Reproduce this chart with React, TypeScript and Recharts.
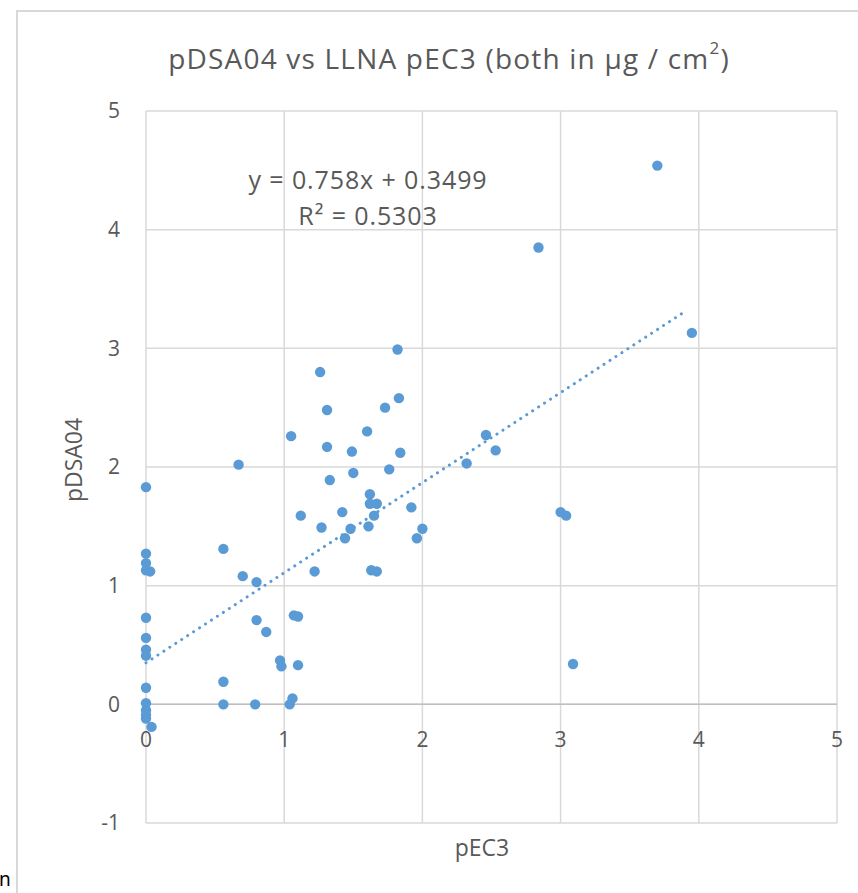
import React from 'react';
import { ScatterChart, Scatter, XAxis, YAxis, CartesianGrid, ReferenceLine } from 'recharts';

// LLNA pEC3 (x) and pDSA04 (y), both in µg / cm²
const pec3 = [
  0, 0, 0, 0, 0.03, 0, 0, 0, 0, 0, 0, 0, 0, 0, 0.04,
  0.67, 0.56, 0.7, 0.8, 0.8, 0.87, 0.97, 0.98, 1.1, 1.07, 1.1, 0.56, 0.56, 0.79, 1.04, 1.06,
  1.22, 1.12, 1.27, 1.05, 1.31, 1.31, 1.33, 1.82, 1.26, 1.83, 1.73, 1.6, 1.49, 1.84, 1.5, 1.76,
  2.46, 2.53, 2.32, 1.62, 1.62, 1.67, 1.65, 1.92, 1.42, 1.61, 1.48, 1.44, 2.0, 1.96, 1.63, 1.67,
  3.0, 3.04, 3.7, 2.84, 3.95, 3.09,
];
const pdsa04 = [
  1.83, 1.27, 1.19, 1.13, 1.12, 0.73, 0.56, 0.46, 0.41, 0.14, 0.01, -0.05, -0.09, -0.12, -0.19,
  2.02, 1.31, 1.08, 1.03, 0.71, 0.61, 0.37, 0.32, 0.33, 0.75, 0.74, 0.19, 0.0, 0.0, 0.0, 0.05,
  1.12, 1.59, 1.49, 2.26, 2.48, 2.17, 1.89, 2.99, 2.8, 2.58, 2.5, 2.3, 2.13, 2.12, 1.95, 1.98,
  2.27, 2.14, 2.03, 1.77, 1.69, 1.69, 1.59, 1.66, 1.62, 1.5, 1.48, 1.4, 1.48, 1.4, 1.13, 1.12,
  1.62, 1.59, 4.54, 3.85, 3.13, 0.34,
];

// linear trendline: y = 0.758x + 0.3499 (ends as drawn in the picture)
const trendStart = { x: 0, y: 0.35 };
const trendEnd = { x: 3.9, y: 3.31 };

const xTicks = [0, 1, 2, 3, 4, 5];
const yTicks = [-1, 0, 1, 2, 3, 4, 5];

const points = pec3.map((x, i) => ({ x, y: pdsa04[i] }));

const BLUE = '#5B9BD5';
const TEXT = '#595959';
const GRID = '#D9D9D9';
const FONT = '"Open Sans", "Noto Sans", sans-serif';

// x labels sit on the y = 0 line, not at the bottom of the plot
const XTick = (props: any) => {
  const { x, y, payload } = props;
  return (
    <text x={x} y={y - 83} dy="0.35em" textAnchor="middle" fill={TEXT} fontSize={21} fontFamily={FONT}>
      {payload.value}
    </text>
  );
};

export default function App() {
  return (
    <div style={{ position: 'absolute', left: 0, top: 0, width: 858, height: 893, background: '#fff', fontFamily: FONT, overflow: 'hidden' }}>
      <div style={{ position: 'absolute', left: 16, top: 10, width: 900, height: 900, border: `2px solid ${GRID}`, boxSizing: 'border-box' }} />
      <div style={{ position: 'absolute', left: -1, top: 866, fontSize: 19, color: '#000', fontFamily: '"Noto Sans", sans-serif' }}>n</div>

      <div style={{ position: 'absolute', left: 0, width: 898, top: 39, textAlign: 'center', fontSize: 28, letterSpacing: 1.2, color: TEXT }}>
        pDSA04 vs LLNA pEC3 (both in µg / cm<sup style={{ fontSize: 17, verticalAlign: 'top', position: 'relative', top: -3 }}>2</sup>)
      </div>

      <ScatterChart width={858} height={893} margin={{ top: 111, right: 21, bottom: 0, left: 106 }}>
        <CartesianGrid stroke={GRID} strokeWidth={1.5} />
        <XAxis
          type="number"
          dataKey="x"
          domain={[0, 5]}
          ticks={xTicks}
          axisLine={false}
          tickLine={false}
          tickSize={0}
          tickMargin={0}
          height={70}
          tick={<XTick />}
        />
        <YAxis
          type="number"
          dataKey="y"
          domain={[-1, 5]}
          ticks={yTicks}
          axisLine={false}
          tickLine={false}
          tickSize={0}
          tickMargin={26}
          width={40}
          tick={{ fill: TEXT, fontSize: 21, fontFamily: FONT }}
        />
        <ReferenceLine y={0} stroke="#BFBFBF" strokeWidth={1.5} />
        <ReferenceLine
          segment={[trendStart, trendEnd]}
          stroke={BLUE}
          strokeWidth={3}
          strokeDasharray="0.1 7"
          strokeLinecap="round"
        />
        <Scatter data={points} fill={BLUE} isAnimationActive={false} shape={(p: any) => <circle cx={p.cx} cy={p.cy} r={5.2} fill={BLUE} />} />
      </ScatterChart>

      <div style={{ position: 'absolute', left: 168, width: 400, top: 161, textAlign: 'center', fontSize: 25, letterSpacing: 0.9, color: TEXT, lineHeight: '36px' }}>
        y = 0.758x + 0.3499<br />R² = 0.5303
      </div>
      <div style={{ position: 'absolute', left: 13, top: 444, width: 120, textAlign: 'center', fontSize: 23, color: TEXT, transform: 'rotate(-90deg)' }}>
        pDSA04
      </div>
      <div style={{ position: 'absolute', left: 432, top: 831, width: 100, textAlign: 'center', fontSize: 23, color: TEXT }}>
        pEC3
      </div>
    </div>
  );
}
